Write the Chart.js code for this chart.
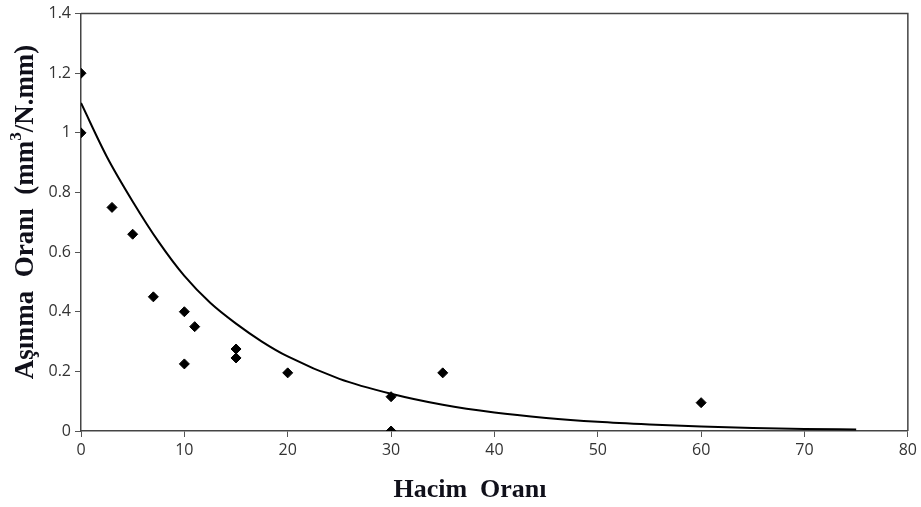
<!DOCTYPE html>
<html lang="tr">
<head>
<meta charset="UTF-8">
<title>Aşınma Oranı - Hacim Oranı</title>
<script src="https://cdn.jsdelivr.net/npm/chart.js"></script>
<style>
    html, body { margin: 0; padding: 0; background: #fff; }
    #grafik { display: block; }
</style>
</head>
<body>
<canvas id="grafik" width="921" height="507"></canvas>
<script>
    // olcum noktalari
    let hacimOrani = [0, 0, 3, 5, 7, 10, 10, 11, 15, 15, 20, 30, 30, 35, 60];
    let asinmaOrani = [1.2, 1.0, 0.75, 0.66, 0.45, 0.40, 0.225, 0.35, 0.275, 0.245, 0.195, 0.115, 0, 0.195, 0.095];

    // egri (trend)
    let egriX = [0, 2.5, 5, 7.5, 10, 12.5, 15, 17.5, 20, 25, 30, 35, 40, 45, 50, 55, 60, 65, 70, 75];
    let egriY = [1.10, 0.92, 0.77, 0.635, 0.52, 0.43, 0.36, 0.30, 0.25, 0.175, 0.125, 0.088, 0.062, 0.044, 0.031, 0.022, 0.015, 0.010, 0.007, 0.005];

    let yTikler = [0, 0.2, 0.4, 0.6, 0.8, 1, 1.2, 1.4];

    let xBaslik = 'Hacim  Oranı';
    // y basligi: ust simge "3" ayri ciziliyor
    let yBaslikParcalar = ['Aşınma  Oranı  (mm', '3', '/N.mm)'];

    let noktalar = hacimOrani.map(function(x, i) { return { x: x, y: asinmaOrani[i] }; });
    let egri = egriX.map(function(x, i) { return { x: x, y: egriY[i] }; });

    // cerceve ve eksen basliklari
    let cerceve = {
        id: 'cerceve',
        afterDraw: function(chart) {
            let ctx = chart.ctx;
            let a = chart.chartArea;
            ctx.save();
            ctx.strokeStyle = '#444';
            ctx.lineWidth = 1.5;
            ctx.beginPath();
            ctx.moveTo(a.left, a.top);
            ctx.lineTo(a.right, a.top);
            ctx.lineTo(a.right, a.bottom);
            ctx.stroke();

            let aile = '"Liberation Serif", "Times New Roman", serif';
            let font = 'bold 27px ' + aile;
            let kucuk = 'bold 17px ' + aile;
            ctx.fillStyle = '#10101a';
            ctx.font = 'bold 26px ' + aile;
            ctx.textAlign = 'center';
            ctx.textBaseline = 'middle';
            ctx.fillText(xBaslik, 470, 490);

            // y basligi
            ctx.translate(26, 212);
            ctx.rotate(-Math.PI / 2);
            ctx.textAlign = 'left';
            ctx.font = font;
            let w1 = ctx.measureText(yBaslikParcalar[0]).width;
            let w3 = ctx.measureText(yBaslikParcalar[2]).width;
            ctx.font = kucuk;
            let w2 = ctx.measureText(yBaslikParcalar[1]).width;
            let x = -(w1 + w2 + w3) / 2;
            ctx.font = font;
            ctx.fillText(yBaslikParcalar[0], x, 0);
            ctx.font = kucuk;
            ctx.fillText(yBaslikParcalar[1], x + w1, -9);
            ctx.font = font;
            ctx.fillText(yBaslikParcalar[2], x + w1 + w2, 0);
            ctx.restore();
        }
    };

    new Chart(document.getElementById('grafik'), {
        type: 'scatter',
        data: {
            datasets: [{
                label: 'Ölçüm',
                data: noktalar,
                backgroundColor: '#000',
                borderColor: '#000',
                pointStyle: 'rectRot',
                pointRadius: 5,
                pointHoverRadius: 5
            }, {
                label: 'Eğri',
                type: 'line',
                data: egri,
                borderColor: '#000',
                borderWidth: 2,
                pointRadius: 0,
                fill: false,
                cubicInterpolationMode: 'monotone'
            }]
        },
        options: {
            responsive: false,
            animation: false,
            layout: { padding: { top: 13, right: 11, left: 0, bottom: 0 } },
            plugins: {
                legend: { display: false },
                tooltip: { enabled: false }
            },
            scales: {
                x: {
                    type: 'linear',
                    min: 0,
                    max: 80,
                    ticks: {
                        stepSize: 10,
                        padding: 4,
                        color: '#333',
                        font: { family: '"Open Sans", "Noto Sans", sans-serif', size: 16 }
                    },
                    grid: {
                        drawOnChartArea: false,
                        drawTicks: true,
                        tickLength: 6,
                        color: '#555'
                    },
                    border: { color: '#444', width: 1.5 },
                    afterFit: function(s) { s.height = 76; }
                },
                y: {
                    min: 0,
                    max: 1.4,
                    afterBuildTicks: function(s) {
                        s.ticks = yTikler.map(function(v) { return { value: v }; });
                    },
                    ticks: {
                        padding: 4,
                        color: '#333',
                        font: { family: '"Open Sans", "Noto Sans", sans-serif', size: 16 },
                        callback: function(v) { return String(Math.round(v * 10) / 10); }
                    },
                    grid: {
                        drawOnChartArea: false,
                        drawTicks: true,
                        tickLength: 6,
                        color: '#555'
                    },
                    border: { color: '#444', width: 1.5 },
                    afterFit: function(s) { s.width = 81; }
                }
            }
        },
        plugins: [cerceve]
    });
</script>
</body>
</html>
